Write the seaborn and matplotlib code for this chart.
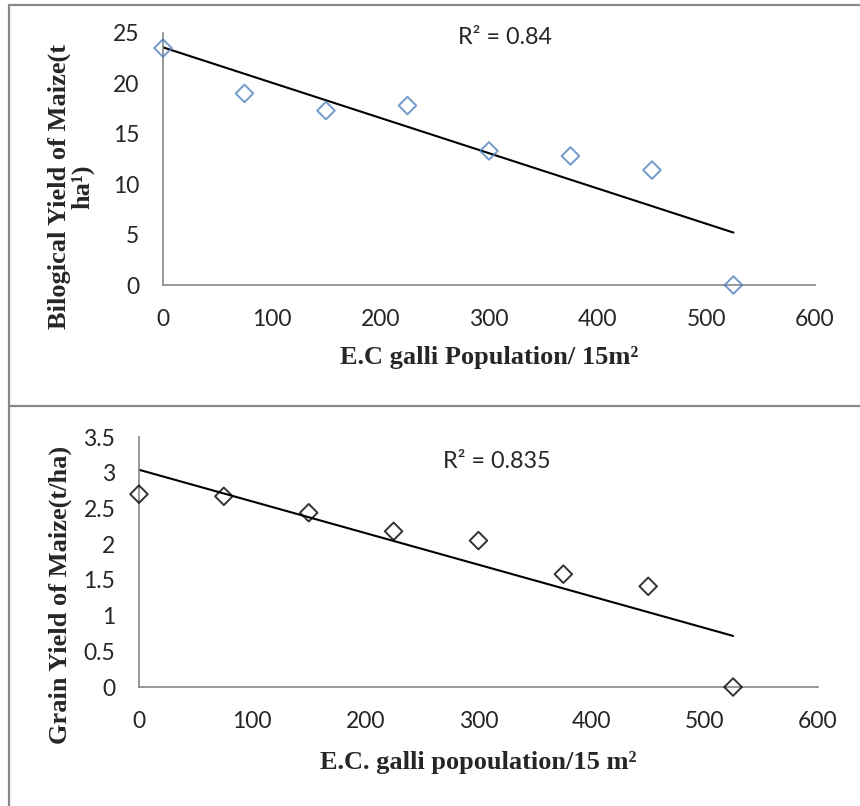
import seaborn as sns
import matplotlib.pyplot as plt
from matplotlib.lines import Line2D

# weed density (plants / 15 m2)
weed_pop = [0, 75, 150, 225, 300, 375, 450, 525]
# biological yield of maize (t/ha)
bio_yield = [23.5, 19.0, 17.3, 17.8, 13.3, 12.8, 11.4, 0.0]
# grain yield of maize (t/ha)
grain_yield = [2.70, 2.67, 2.44, 2.18, 2.05, 1.58, 1.41, 0.0]

x_ticks = [0, 100, 200, 300, 400, 500, 600]
bio_ticks = [0, 5, 10, 15, 20, 25]
grain_ticks = [0, 0.5, 1, 1.5, 2, 2.5, 3, 3.5]
grain_tick_labels = ["0", "0.5", "1", "1.5", "2", "2.5", "3", "3.5"]

sns.set_style("white")
plt.rcParams['font.family'] = ['Lato', 'DejaVu Sans']

tick_font = 16.5
label_font = dict(family='Liberation Serif', weight='bold', size=19)
axis_grey = '#868686'

fig = plt.figure(figsize=(8.6, 8.06), dpi=100)
ax1 = fig.add_axes([0.1895, 0.6464, 0.7581, 0.3127])
ax2 = fig.add_axes([0.1616, 0.1476, 0.7895, 0.3102])


def draw_panel(ax, y, colour, yticks, yticklabels, ylim):
    sns.regplot(x=weed_pop, y=y, ax=ax, ci=None, marker='D', truncate=True,
                scatter_kws=dict(facecolors='none', edgecolors=colour, s=80,
                                 linewidths=1.4, zorder=3, clip_on=False),
                line_kws=dict(color='black', lw=1.5, zorder=2),
                color=colour)
    ax.set_xlim(0, 600)
    ax.set_ylim(*ylim)
    ax.set_xticks(x_ticks)
    ax.set_yticks(yticks)
    ax.set_xticklabels([str(t) for t in x_ticks], fontsize=tick_font)
    ax.set_yticklabels(yticklabels, fontsize=tick_font)
    ax.tick_params(axis='x', length=0, pad=17)
    ax.tick_params(axis='y', length=0, pad=17)
    for s in ['top', 'right']:
        ax.spines[s].set_visible(False)
    for s in ['left', 'bottom']:
        ax.spines[s].set_color(axis_grey)
        ax.spines[s].set_linewidth(1.2)


draw_panel(ax1, bio_yield, '#4F81BD', bio_ticks, [str(t) for t in bio_ticks], (0, 25))
draw_panel(ax2, grain_yield, 'black', grain_ticks, grain_tick_labels, (0, 3.5))

ax1.set_xlabel("E.C galli Population/ 15m²", fontdict=label_font, labelpad=12)
ax1.set_ylabel("Bilogical Yield of Maize(t\nha¹)", fontdict=label_font,
               multialignment='center', linespacing=1.0)
ax1.yaxis.set_label_coords(-0.105, 0.39)
ax2.set_xlabel("E.C. galli popoulation/15 m²", fontdict=label_font, labelpad=14)
ax2.set_ylabel("Grain Yield of Maize(t/ha)", fontdict=label_font)
ax2.yaxis.set_label_coords(-0.0985, 0.37)

fig.text(505 / 860, 1 - 37 / 806, "R² = 0.84", fontsize=16.8, ha='center', va='center')
fig.text(497 / 860, 1 - 462 / 806, "R² = 0.835", fontsize=16.8, ha='center', va='center')

# frame lines of the original table
frame = dict(color='#888888', lw=1.6, transform=fig.transFigure)
fig.add_artist(Line2D([9 / 860, 1], [1 - 5 / 806, 1 - 5 / 806], **frame))
fig.add_artist(Line2D([9 / 860, 9 / 860], [0, 1 - 5 / 806], **frame))
fig.add_artist(Line2D([9 / 860, 1], [1 - 406 / 806, 1 - 406 / 806], **frame))

plt.savefig("out.png", dpi=100)
